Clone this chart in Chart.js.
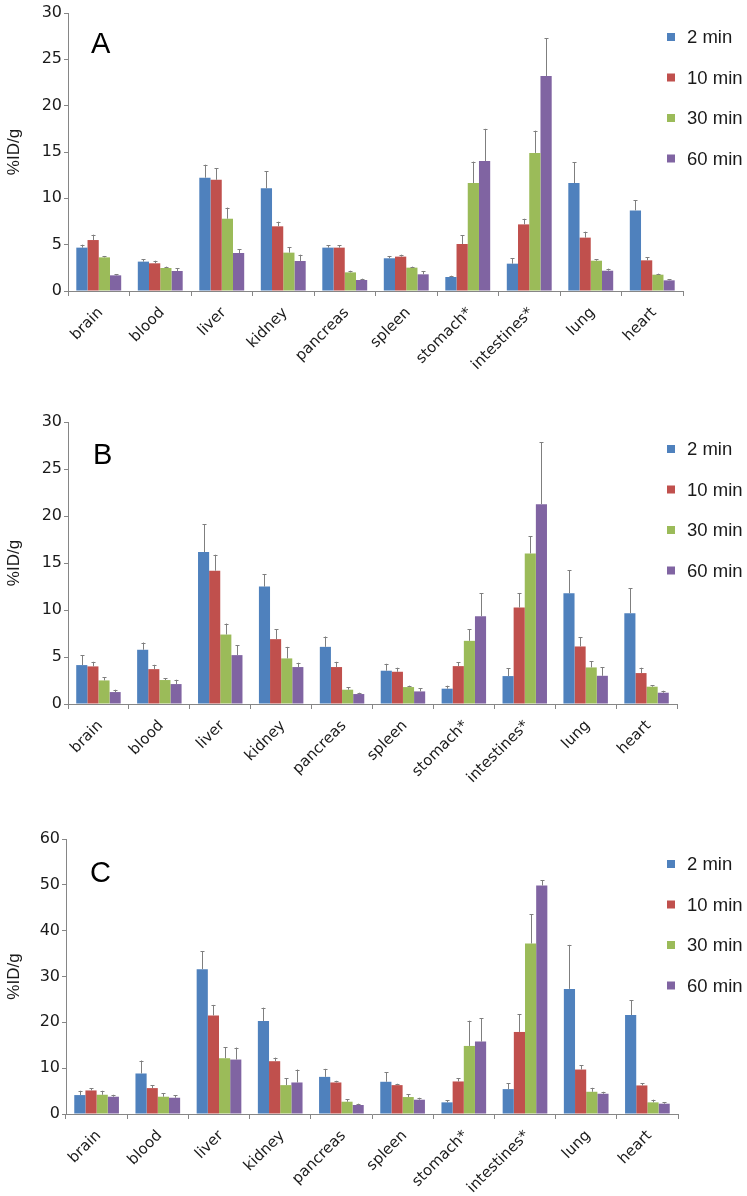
<!DOCTYPE html>
<html>
<head>
<meta charset="utf-8">
<title>%ID/g biodistribution</title>
<script src="https://cdn.jsdelivr.net/npm/chart.js@4.4.1/dist/chart.umd.min.js"></script>
<style>
  body { margin: 0; background: #fff; }
  canvas { position: absolute; left: 0; }
</style>
</head>
<body>
<canvas id="chartA" width="747" height="390" style="top:0px"></canvas>
<canvas id="chartB" width="747" height="410" style="top:390px"></canvas>
<canvas id="chartC" width="747" height="396" style="top:800px"></canvas>
<script>
// organs on the x axis
const organs = ['brain', 'blood', 'liver', 'kidney', 'pancreas', 'spleen', 'stomach*', 'intestines*', 'lung', 'heart'];
const timePoints = ['2 min', '10 min', '30 min', '60 min'];
const colors = ['#4F81BD', '#C0504D', '#9BBB59', '#8064A2'];

// panel A
const a2 = [4.68, 3.17, 12.23, 11.08, 4.68, 3.53, 1.51, 2.95, 11.65, 8.70];
const a10 = [5.50, 2.99, 12.00, 6.98, 4.68, 3.71, 5.07, 7.19, 5.76, 3.31];
const a30 = [3.63, 2.48, 7.80, 4.14, 2.01, 2.52, 11.65, 14.90, 3.27, 1.76];
const a60 = [1.69, 2.16, 4.10, 3.24, 1.19, 1.80, 14.03, 23.20, 2.19, 1.15];
const a2sd = [0.32, 0.28, 1.40, 1.82, 0.28, 0.25, 0.14, 0.58, 2.25, 1.08];
const a10sd = [0.58, 0.28, 1.27, 0.50, 0.25, 0.21, 0.97, 0.61, 0.64, 0.32];
const a30sd = [0.15, 0.15, 1.20, 0.61, 0.18, 0.11, 2.31, 2.40, 0.18, 0.11];
const a60sd = [0.14, 0.29, 0.40, 0.68, 0.14, 0.36, 3.47, 4.10, 0.22, 0.14];

// panel B
const b2 = [4.14, 5.77, 16.17, 12.49, 6.08, 3.54, 1.63, 2.97, 11.78, 9.66];
const b10 = [4.00, 3.71, 14.18, 6.90, 3.93, 3.43, 4.03, 10.26, 6.12, 3.29];
const b30 = [2.51, 2.55, 7.39, 4.85, 1.52, 1.80, 6.72, 16.02, 3.89, 1.84];
const b60 = [1.27, 2.12, 5.20, 3.93, 1.06, 1.34, 9.34, 21.26, 3.00, 1.20];
const b2sd = [1.02, 0.77, 2.93, 1.34, 1.10, 0.74, 0.32, 0.81, 2.44, 2.65];
const b10sd = [0.49, 0.46, 1.70, 1.06, 0.56, 0.43, 0.39, 1.55, 0.99, 0.57];
const b30sd = [0.36, 0.17, 1.17, 1.23, 0.25, 0.15, 1.24, 1.81, 0.64, 0.18];
const b60sd = [0.25, 0.46, 1.03, 0.46, 0.14, 0.36, 2.44, 6.58, 0.93, 0.21];

// panel C
const c2 = [4.13, 8.84, 31.6, 20.3, 8.10, 7.03, 2.54, 5.43, 27.3, 21.6];
const c10 = [5.14, 5.65, 21.5, 11.52, 6.88, 6.30, 7.10, 17.9, 9.70, 6.23];
const c30 = [4.20, 3.77, 12.17, 6.30, 2.68, 3.70, 14.85, 37.2, 4.85, 2.54];
const c60 = [3.77, 3.55, 11.88, 6.88, 1.96, 3.12, 15.8, 49.86, 4.42, 2.25];
const c2sd = [0.94, 2.83, 3.9, 2.9, 1.75, 2.03, 0.43, 1.31, 9.6, 3.2];
const c10sd = [0.51, 0.58, 2.3, 0.78, 0.37, 0.30, 0.65, 3.9, 0.95, 0.44];
const c30sd = [0.87, 0.72, 2.43, 1.5, 0.51, 0.58, 5.51, 6.4, 0.87, 0.58];
const c60sd = [0.43, 0.51, 2.62, 2.82, 0.29, 0.43, 5.07, 1.14, 0.43, 0.36];

const axisGrey = '#868686';
const textColor = '#1a1a1a';

// upward-only error bars, drawn from each bar top
const errorBars = {
  id: 'errorBars',
  afterDatasetsDraw(chart, args, opts) {
    const ctx = chart.ctx;
    const y = chart.scales.y;
    ctx.save();
    ctx.strokeStyle = '#7f7f7f';
    ctx.lineWidth = 1;
    chart.data.datasets.forEach((ds, i) => {
      const meta = chart.getDatasetMeta(i);
      meta.data.forEach((bar, j) => {
        const top = y.getPixelForValue(ds.data[j] + opts.sd[i][j]);
        const x = Math.round(bar.x) + 0.5;
        ctx.beginPath();
        ctx.moveTo(x, bar.y);
        ctx.lineTo(x, top);
        ctx.moveTo(x - 2, Math.round(top) + 0.5);
        ctx.lineTo(x + 2, Math.round(top) + 0.5);
        ctx.stroke();
      });
    });
    ctx.restore();
  }
};

// legend at the right and the panel letter
const sideLegend = {
  id: 'sideLegend',
  afterDraw(chart, args, opts) {
    const ctx = chart.ctx;
    ctx.save();
    ctx.font = '18.5px "Liberation Sans", Arial, sans-serif';
    ctx.textBaseline = 'middle';
    chart.data.datasets.forEach((ds, i) => {
      const cy = opts.top + i * opts.step;
      ctx.fillStyle = ds.backgroundColor;
      ctx.fillRect(667, cy - 4, 8, 8);
      ctx.fillStyle = textColor;
      ctx.fillText(ds.label, 687, cy + 1);
    });
    ctx.font = '29px "Liberation Sans", Arial, sans-serif';
    ctx.textBaseline = 'alphabetic';
    ctx.fillStyle = '#000';
    ctx.fillText(opts.letter, opts.lx, opts.ly);
    ctx.restore();
  }
};

function makePanel(id, series, sds, yMax, yStep, pad, xHeight, yWidth, legendTop, legendStep, letter, lx, ly) {
  new Chart(document.getElementById(id), {
    type: 'bar',
    data: {
      labels: organs,
      datasets: series.map((s, i) => ({
        label: timePoints[i],
        data: s,
        backgroundColor: colors[i],
        borderWidth: 0,
        barPercentage: 1,
        categoryPercentage: 0.73
      }))
    },
    options: {
      responsive: false,
      animation: false,
      layout: { padding: pad },
      plugins: {
        legend: { display: false },
        tooltip: { enabled: false },
        errorBars: { sd: sds },
        sideLegend: { top: legendTop, step: legendStep, letter: letter, lx: lx, ly: ly }
      },
      scales: {
        x: {
          afterFit: (scale) => { scale.height = xHeight; },
          grid: { drawOnChartArea: false, drawTicks: true, tickLength: 5, color: axisGrey, offset: true },
          border: { color: axisGrey },
          ticks: {
            autoSkip: false, minRotation: 45, maxRotation: 45, padding: 8, labelOffset: 2,
            color: textColor, font: { family: '"DejaVu Sans", Verdana, sans-serif', size: 15 }
          }
        },
        y: {
          min: 0, max: yMax,
          afterFit: (scale) => { scale.width = yWidth; },
          grid: { drawOnChartArea: false, drawTicks: true, tickLength: 4, color: axisGrey },
          border: { color: axisGrey },
          ticks: {
            stepSize: yStep, padding: 2,
            color: textColor, font: { family: '"DejaVu Sans", Verdana, sans-serif', size: 16 }
          },
          title: {
            display: true, text: '%ID/g', color: textColor, padding: { top: 4, bottom: 0 },
            font: { family: '"Liberation Sans", Arial, sans-serif', size: 17 }
          }
        }
      }
    },
    plugins: [errorBars, sideLegend]
  });
}

makePanel('chartA', [a2, a10, a30, a60], [a2sd, a10sd, a30sd, a60sd], 30, 5,
  { top: 13, right: 64, bottom: 0, left: 0 }, 99, 68, 37, 40.5, 'A', 91, 53);
makePanel('chartB', [b2, b10, b30, b60], [b2sd, b10sd, b30sd, b60sd], 30, 5,
  { top: 32, right: 70, bottom: 0, left: 0 }, 96, 68, 59, 40.5, 'B', 93, 74);
makePanel('chartC', [c2, c10, c30, c60], [c2sd, c10sd, c30sd, c60sd], 60, 10,
  { top: 39, right: 69, bottom: 0, left: 0 }, 82, 66, 64, 40.5, 'C', 90, 82);
</script>
</body>
</html>
